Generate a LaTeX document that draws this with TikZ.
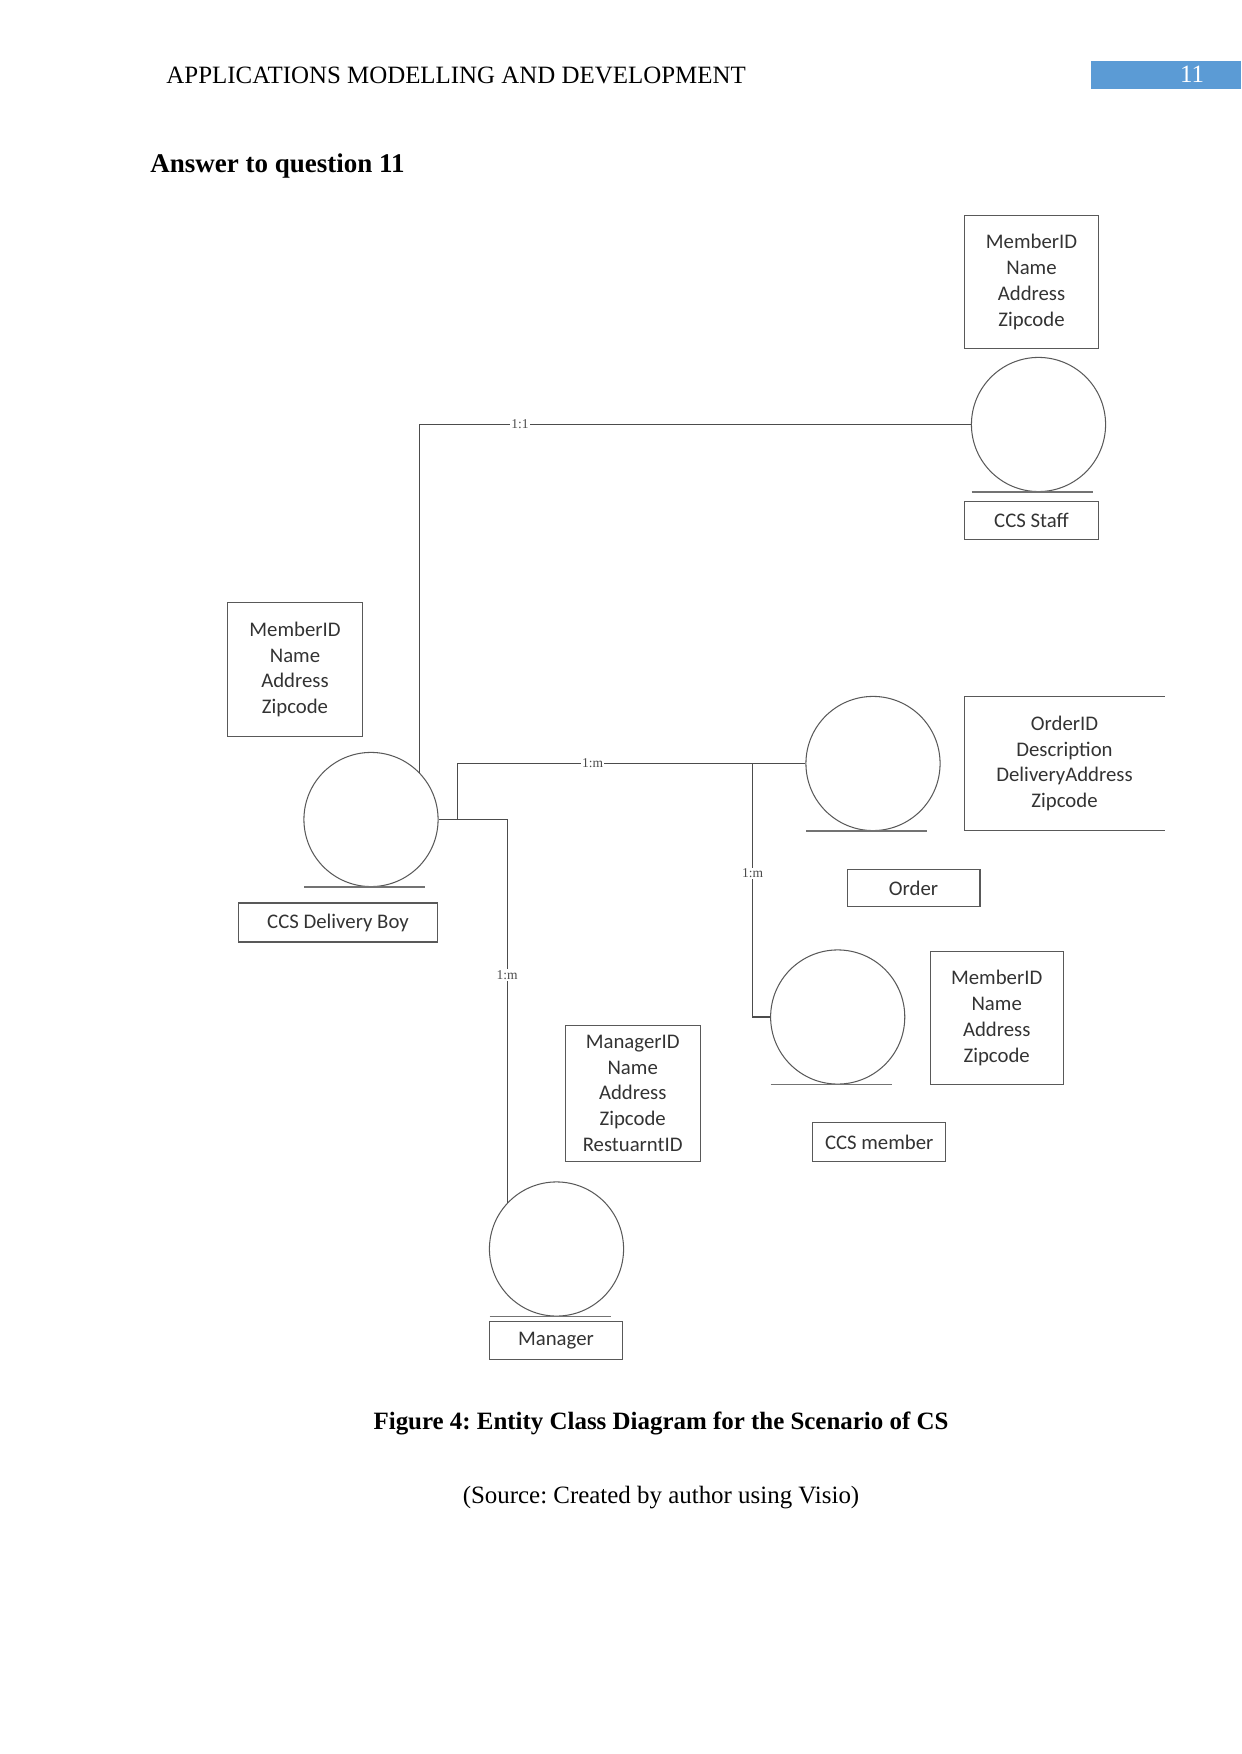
\documentclass[tikz,border=0pt]{standalone}
\usepackage{fontspec}
\setmainfont{Liberation Serif}
\newfontfamily\visiofont{Carlito}
\usepackage{xcolor}
\usetikzlibrary{calc}
\frenchspacing

\definecolor{hdrblue}{HTML}{5B9BD5}

\tikzset{
  ent/.style={circle, draw=black!65, line width=0.5pt, minimum size=22.7mm, inner sep=0pt},
  attr/.style={draw=black!65, line width=0.5pt, align=center, text=black!80,
    font=\visiofont\fontsize{10}{12.4}\selectfont,
    minimum width=22.6mm, minimum height=22.5mm, inner sep=0pt},
  ename/.style={draw=black!65, line width=0.5pt, text=black!80,
    font=\visiofont\fontsize{10}{12}\selectfont,
    minimum width=22.7mm, minimum height=6.4mm, inner sep=0pt},
  rel/.style={black!70, line width=0.5pt},
  card/.style={fill=white, inner sep=0.6pt, font=\fontsize{6.5}{7}\selectfont},
  baseln/.style={black!55, line width=0.6pt},
}

\begin{document}
\begin{tikzpicture}[x=0.16922mm, y=-0.16922mm]
\useasboundingbox (0,0) rectangle (1241,1754);

% page header
\fill[hdrblue] (1091,61) rectangle (1241,89);
\node[anchor=base, text=white, inner sep=0pt, font=\fontsize{12}{14}\selectfont] (pgnum) at (1192,83) {11};
\node[anchor=base west, inner sep=0pt, font=\fontsize{12}{14}\selectfont] (hdr) at (166,84) {APPLICATIONS MODELLING AND DEVELOPMENT};
\node[anchor=base west, inner sep=0pt, font=\bfseries\fontsize{13}{15}\selectfont] (qtitle) at (150,173) {Answer to question 11};

% CCS staff
\node[attr] (staffattr) at (1031.5,282) {MemberID\\Name\\Address\\Zipcode};
\node[ent] (staff) at (1038.5,424.5) {};
\node[ename] (stafflbl) at (1031.5,520.5) {CCS Staff};

% CCS delivery boy
\node[attr, minimum width=22.7mm, minimum height=22.8mm] (dboyattr) at (295,669.5) {MemberID\\Name\\Address\\Zipcode};
\node[ent] (dboy) at (371,819.5) {};
\node[ename, minimum width=33.8mm, minimum height=6.6mm] (dboylbl) at (338,922.5) {CCS Delivery Boy};

% order
\node[ent] (order) at (873,763.5) {};
\node[attr, draw=none, minimum width=33.7mm] (orderattr) at (1064.5,763.5) {OrderID\\Description\\DeliveryAddress\\Zipcode};
\draw[black!65, line width=0.5pt] (orderattr.north east) -- (orderattr.north west) -- (orderattr.south west) -- (orderattr.south east);
\node[ename, minimum width=22.5mm] (orderlbl) at (913.5,888) {Order};

% CCS member
\node[ent] (member) at (837.7,1017) {};
\node[attr, minimum width=22.56mm] (memberattr) at (996.7,1018) {MemberID\\Name\\Address\\Zipcode};
\node[ename, minimum width=22.5mm, minimum height=6.45mm] (memberlbl) at (879.2,1142) {CCS member};

% manager
\node[attr, minimum width=22.9mm, minimum height=22.9mm] (mgrattr) at (632.7,1093.4) {ManagerID\\Name\\Address\\Zipcode\\RestuarntID};
\node[ent] (mgr) at (556.5,1249) {};
\node[ename, minimum width=22.6mm] (mgrlbl) at (556,1340.5) {Manager};

\foreach \e in {staff,dboy,order,member,mgr}
  \draw[baseln] ($(\e.south)+(-67,0)$) -- ++(121,0);

% relations
\coordinate (jd) at ($(dboy.east)+(19,0)$);
\coordinate (jo) at (752.5,763.5);
\draw[rel] (dboy.44) |- (staff.west) node[card, pos=0.591] {1:1};
\draw[rel] (dboy.east) -| (mgr.137) node[card, pos=0.703] {1:m};
\draw[rel] (jd) |- (order.west) node[card, pos=0.694] {1:m};
\draw[rel] (jo) |- (member.west) node[card, pos=0.217] {1:m};

% caption
\node[anchor=base, inner sep=0pt, font=\bfseries\fontsize{12}{14}\selectfont] (cap) at (661,1429) {Figure 4: Entity Class Diagram for the Scenario of CS};
\node[anchor=base, inner sep=0pt, font=\fontsize{12}{14}\selectfont] (src) at (661,1503) {(Source: Created by author using Visio)};
\end{tikzpicture}
\end{document}
